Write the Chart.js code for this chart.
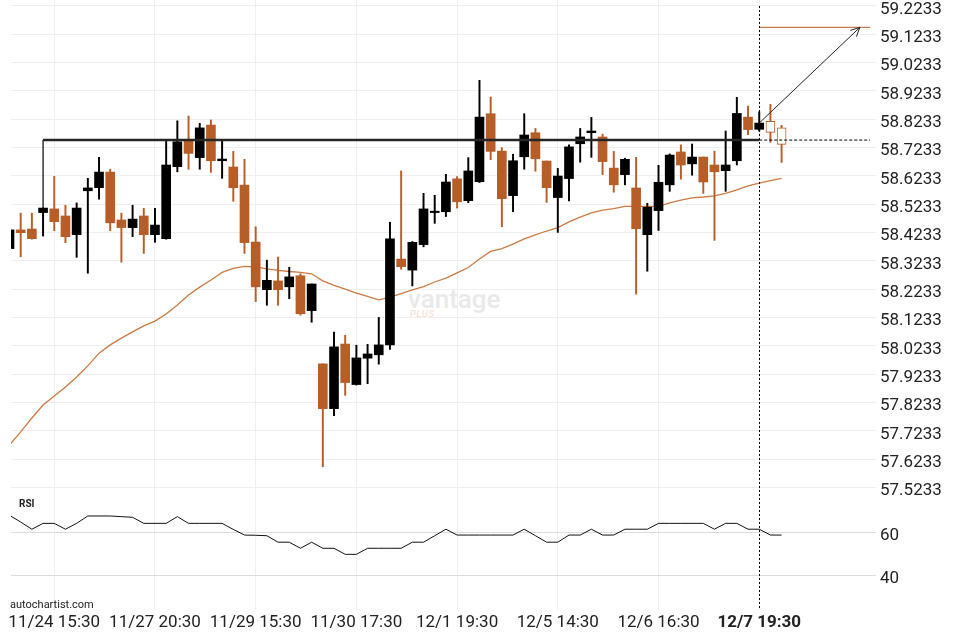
<!DOCTYPE html>
<html><head><meta charset="utf-8">
<script src="https://cdn.jsdelivr.net/npm/chart.js@4.4.0/dist/chart.umd.min.js"></script>
<style>
html,body{margin:0;padding:0;background:#fff;}
#wrap{position:relative;width:960px;height:640px;overflow:hidden;font-family:Roboto,"Noto Sans",sans-serif;}
canvas{position:absolute;left:0;}
#main{top:0;}
#rsi{top:490px;}
.txt{position:absolute;white-space:nowrap;}
</style></head><body>
<div id="wrap">
  <div class="txt" style="left:408px;top:284px;font-size:26px;font-weight:500;color:#e9e9e9;">vantage</div>
  <div class="txt" style="left:410px;top:309px;font-size:9px;font-style:italic;letter-spacing:1px;color:#f3dac8;">PLUS</div>
  <canvas id="main" width="960" height="502"></canvas>
  <canvas id="rsi" width="960" height="150"></canvas>
  <div class="txt" style="left:19px;top:498px;font-size:10px;font-weight:bold;color:#222;">RSI</div>
  <div class="txt" style="left:10px;top:598px;font-size:11px;color:#222;">autochartist.com</div>
</div>
<script>
// ---- data ----
const timeTickLabels = ['11/24 15:30','11/27 20:30','11/29 15:30','11/30 17:30','12/1 19:30','12/5 14:30','12/6 16:30','12/7 19:30'];
const timeTickBars = [4,13,22,31,40,49,58,67];
const opens = [58.367,58.433,58.436,58.494,58.507,58.482,58.416,58.571,58.582,58.637,
  58.468,58.441,58.482,58.416,58.402,58.656,58.748,58.688,58.803,58.677,
  58.655,58.591,58.390,58.222,58.253,58.232,58.271,58.148,57.960,57.802,
  58.030,57.887,57.980,57.992,58.027,58.330,58.291,58.381,58.494,58.497,
  58.613,58.536,58.603,58.843,58.711,58.554,58.691,58.776,58.676,58.547,
  58.614,58.737,58.776,58.761,58.651,58.628,58.581,58.416,58.501,58.592,
  58.708,58.666,58.690,58.662,58.642,58.677,58.831,58.788,58.816,58.793];
const closes = [58.433,58.423,58.402,58.510,58.462,58.409,58.510,58.581,58.637,58.458,
  58.441,58.471,58.416,58.450,58.662,58.744,58.703,58.793,58.677,58.683,
  58.582,58.388,58.232,58.255,58.222,58.267,58.137,58.242,57.802,58.020,
  57.894,57.981,57.995,58.027,58.401,58.303,58.389,58.507,58.499,58.602,
  58.532,58.641,58.831,58.710,58.543,58.677,58.768,58.684,58.582,58.623,
  58.726,58.761,58.782,58.674,58.592,58.682,58.437,58.513,58.601,58.697,
  58.662,58.690,58.602,58.638,58.662,58.844,58.787,58.810,58.777,58.735];
const highs = [58.435,58.492,58.492,58.510,58.622,58.520,58.528,58.615,58.689,58.647,
  58.492,58.520,58.509,58.509,58.750,58.818,58.835,58.809,58.821,58.750,
  58.710,58.682,58.444,58.326,58.337,58.301,58.278,58.242,57.960,58.072,
  58.061,58.026,58.029,58.124,58.460,58.641,58.392,58.562,58.555,58.629,
  58.621,58.688,58.961,58.902,58.723,58.700,58.843,58.791,58.676,58.650,
  58.733,58.791,58.830,58.771,58.710,58.686,58.689,58.527,58.661,58.701,
  58.733,58.736,58.690,58.711,58.782,58.901,58.870,58.850,58.876,58.802];
const lows = [58.365,58.338,58.400,58.411,58.430,58.388,58.336,58.280,58.541,58.430,
  58.319,58.409,58.350,58.389,58.400,58.638,58.647,58.647,58.636,58.615,
  58.534,58.350,58.180,58.167,58.167,58.190,58.132,58.107,57.597,57.777,
  57.849,57.885,57.890,57.959,58.011,58.294,58.235,58.373,58.456,58.480,
  58.510,58.529,58.600,58.681,58.444,58.497,58.647,58.640,58.530,58.424,
  58.535,58.672,58.689,58.628,58.566,58.592,58.206,58.287,58.431,58.569,
  58.612,58.626,58.562,58.396,58.569,58.662,58.769,58.782,58.742,58.671];
const movingAvg = [57.674,57.720,57.769,57.815,57.847,57.878,57.914,57.953,57.998,58.027,
  58.051,58.073,58.094,58.111,58.136,58.168,58.203,58.231,58.256,58.283,
  58.297,58.304,58.302,58.295,58.290,58.286,58.283,58.278,58.253,58.237,
  58.224,58.210,58.198,58.186,58.196,58.208,58.221,58.233,58.249,58.263,
  58.281,58.300,58.330,58.357,58.367,58.383,58.401,58.415,58.429,58.441,
  58.461,58.478,58.493,58.503,58.508,58.516,58.516,58.516,58.516,58.528,
  58.538,58.546,58.549,58.553,58.562,58.574,58.588,58.598,58.607,58.615];
const rsiValues = [68.0,64.9,61.6,64.3,64.3,61.6,64.3,67.7,67.7,67.7,
  67.4,67.1,64.3,64.3,64.3,67.4,64.3,64.3,64.3,64.3,
  61.5,58.9,58.8,58.6,55.6,55.6,52.8,55.6,52.8,52.8,
  50.0,50.0,52.8,52.8,52.8,52.8,55.6,55.6,58.6,61.6,
  58.9,58.9,58.9,58.9,58.9,58.9,61.6,58.6,55.6,55.6,
  58.9,58.9,61.6,58.9,58.9,61.6,61.6,61.6,64.3,64.3,
  64.3,64.3,64.3,61.6,64.3,64.3,61.6,61.6,58.9,58.9];
const priceTicks = [57.5233,57.6233,57.7233,57.8233,57.9233,58.0233,58.1233,58.2233,58.3233,
  58.4233,58.5233,58.6233,58.7233,58.8233,58.9233,59.0233,59.1233,59.2233];
const rsiTicks = [40, 60];
const levelPrice = 58.750, levelStartBar = 3, levelAnchorLow = 58.510;
const targetPrice = 59.148, targetBar = 76;
const currentBar = 67;

// ---- styles ----
const ORANGE = '#b75e28';
const MA_ORANGE = '#cd7b45';
const X_MIN = 0.134, X_MAX = 76.9;
Chart.defaults.font.family = 'Roboto';
Chart.defaults.color = '#222';

const bars = opens.map((_, i) => i);
const isUp = i => closes[i] >= opens[i];

function zeroPad(s) { s.paddingTop = 0; s.paddingBottom = 0; s.paddingLeft = 0; s.paddingRight = 0; }

function xScaleCfg(showLabels, hiddenHeight) {
  return {
    type: 'linear', min: X_MIN, max: X_MAX, offset: false,
    afterBuildTicks: s => { s.ticks = timeTickBars.map(v => ({value: v})); },
    grid: {color: '#efefef', drawTicks: false, offset: false},
    border: {display: false},
    ticks: showLabels ? {
      display: true, padding: 3, color: '#222', maxRotation: 0, autoSkip: false,
      callback: v => timeTickLabels[timeTickBars.indexOf(v)],
      font: ctx => ({size: 17, weight: (ctx.tick && ctx.tick.value === currentBar) ? 'bold' : 'normal'})
    } : {display: false},
    afterFit: s => { s.height = showLabels ? 30 : hiddenHeight; zeroPad(s); }
  };
}

const vlinePlugin = {
  id: 'vline',
  afterDatasetsDraw(chart, args, opts) {
    const {ctx, chartArea, scales} = chart;
    const x = Math.round(scales.x.getPixelForValue(currentBar)) + 0.5;
    const top = opts.fromValue !== undefined ? scales.y.getPixelForValue(opts.fromValue) : chartArea.top;
    ctx.save();
    ctx.strokeStyle = '#000'; ctx.lineWidth = 1; ctx.setLineDash([2, 2]);
    ctx.beginPath(); ctx.moveTo(x, top); ctx.lineTo(x, chartArea.bottom); ctx.stroke();
    ctx.restore();
  }
};

const arrowPlugin = {
  id: 'arrowHead',
  afterDatasetsDraw(chart) {
    const idx = chart.data.datasets.findIndex(d => d.label === 'arrow');
    const pts = chart.getDatasetMeta(idx).data;
    const a = pts[0], b = pts[1];
    const ang = Math.atan2(b.y - a.y, b.x - a.x);
    const L = 10, spread = 0.45;
    const ctx = chart.ctx;
    ctx.save();
    ctx.strokeStyle = '#222'; ctx.lineWidth = 1;
    ctx.beginPath();
    ctx.moveTo(b.x - L * Math.cos(ang - spread), b.y - L * Math.sin(ang - spread));
    ctx.lineTo(b.x, b.y);
    ctx.lineTo(b.x - L * Math.cos(ang + spread), b.y - L * Math.sin(ang + spread));
    ctx.stroke();
    ctx.restore();
  }
};

new Chart(document.getElementById('main'), {
  type: 'bar',
  data: {
    datasets: [
      {
        type: 'line', label: 'ma', order: 6,
        data: bars.map(i => ({x: i, y: movingAvg[i]})),
        borderColor: MA_ORANGE, borderWidth: 1.3, pointRadius: 0, tension: 0
      },
      {
        label: 'wicks', order: 5, grouped: false, barThickness: 1.3,
        data: bars.map(i => ({x: i, y: [lows[i], highs[i]]})),
        backgroundColor: ctx => (ctx.dataIndex > currentBar || !isUp(ctx.dataIndex)) ? ORANGE : '#000'
      },
      {
        label: 'bodies', order: 4, grouped: false, barThickness: 9, borderSkipped: false,
        data: bars.map(i => ({x: i, y: [opens[i], closes[i]]})),
        backgroundColor: ctx => ctx.dataIndex > currentBar ? '#fff' : (isUp(ctx.dataIndex) ? '#000' : ORANGE),
        borderColor: ORANGE,
        borderWidth: ctx => ctx.dataIndex > currentBar ? 1 : 0
      },
      {
        type: 'line', label: 'anchor', order: 3,
        data: [{x: levelStartBar, y: levelAnchorLow}, {x: levelStartBar, y: levelPrice}],
        borderColor: '#000', borderWidth: 1.2, pointRadius: 0
      },
      {
        type: 'line', label: 'level', order: 2,
        data: [{x: levelStartBar, y: levelPrice}, {x: currentBar, y: levelPrice}],
        borderColor: '#262626', borderWidth: 2.6, pointRadius: 0
      },
      {
        type: 'line', label: 'levelExt', order: 2,
        data: [{x: currentBar, y: levelPrice}, {x: X_MAX + 1, y: levelPrice}],
        borderColor: '#000', borderWidth: 1, borderDash: [3, 2], pointRadius: 0
      },
      {
        type: 'line', label: 'target', order: 2,
        data: [{x: currentBar, y: targetPrice}, {x: X_MAX + 1, y: targetPrice}],
        borderColor: ORANGE, borderWidth: 1, pointRadius: 0
      },
      {
        type: 'line', label: 'arrow', order: 1,
        data: [{x: currentBar, y: closes[currentBar]}, {x: targetBar, y: targetPrice}],
        borderColor: '#222', borderWidth: 1, pointRadius: 0
      }
    ]
  },
  options: {
    responsive: false, animation: false, events: [],
    layout: {padding: {left: 11, right: 0, top: 0, bottom: 0}, autoPadding: false},
    plugins: {legend: {display: false}, tooltip: {enabled: false}, vline: {fromValue: 59.2233}},
    scales: {
      x: xScaleCfg(false, 12),
      y: {
        position: 'right', min: 57.5148, max: 59.2444,
        afterBuildTicks: s => { s.ticks = priceTicks.map(v => ({value: v})); },
        ticks: {callback: v => v.toFixed(4), font: {size: 17}, color: '#222', padding: 4, labelOffset: 3.5},
        grid: {color: '#efefef', drawTicks: true, tickLength: 6},
        border: {display: false},
        afterFit: s => { s.width = 90; zeroPad(s); }
      }
    }
  },
  plugins: [vlinePlugin, arrowPlugin]
});

new Chart(document.getElementById('rsi'), {
  type: 'line',
  data: {
    datasets: [{
      label: 'RSI',
      data: bars.map(i => ({x: i, y: rsiValues[i]})),
      borderColor: '#111', borderWidth: 1, pointRadius: 0, tension: 0
    }]
  },
  options: {
    responsive: false, animation: false, events: [],
    layout: {padding: {left: 11, right: 0, top: 0, bottom: 0}, autoPadding: false},
    plugins: {legend: {display: false}, tooltip: {enabled: false}},
    scales: {
      x: xScaleCfg(true, 0),
      y: {
        position: 'right', min: 24.3, max: 79.7,
        afterBuildTicks: s => { s.ticks = rsiTicks.map(v => ({value: v})); },
        ticks: {callback: v => String(v), font: {size: 17}, color: '#222', padding: 4, labelOffset: 3},
        grid: {color: '#dcdcdc', drawTicks: true, tickLength: 6},
        border: {display: false},
        afterFit: s => { s.width = 90; zeroPad(s); }
      }
    }
  },
  plugins: [vlinePlugin]
});
</script>
</body></html>
